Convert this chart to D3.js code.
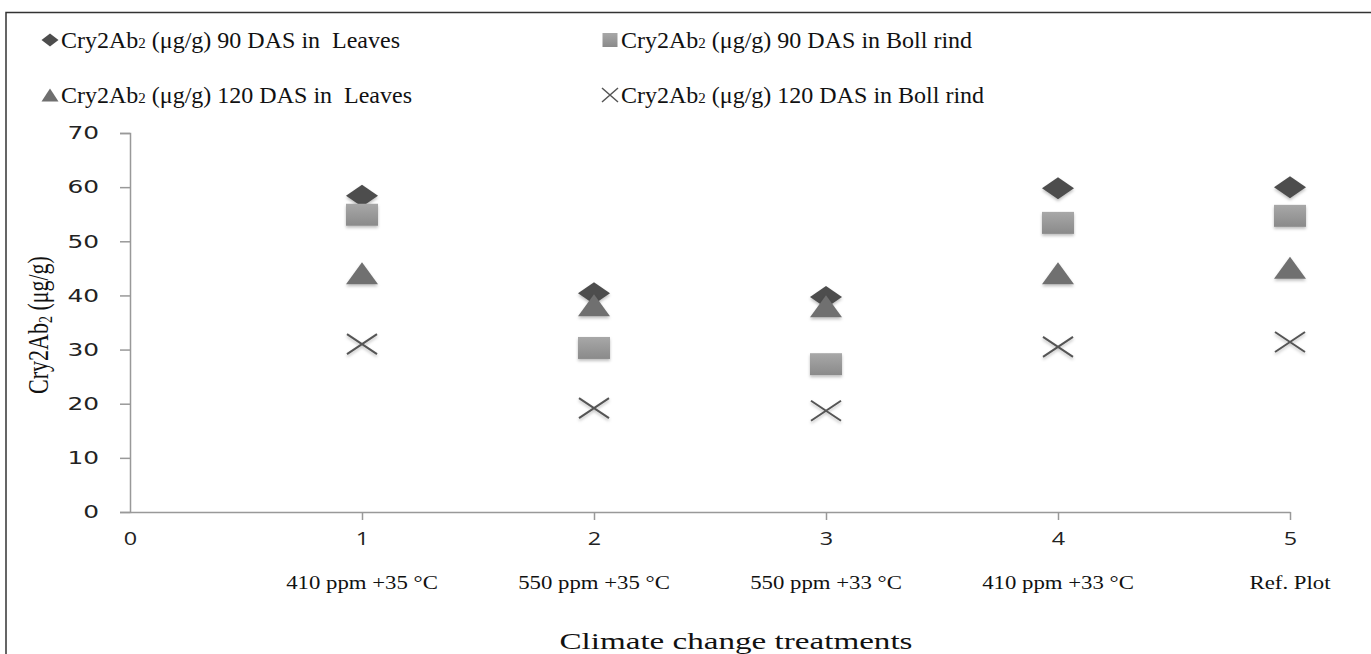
<!DOCTYPE html>
<html>
<head>
  <script src="https://d3js.org/d3.v7.min.js"></script>
  <style>
    body { margin: 0; background: #fff; }
    text { white-space: pre; }
  </style>
</head>
<body>
  <div id="chart"></div>

  <script>
    var treatments = ["410 ppm +35 \u00B0C", "550 ppm +35 \u00B0C", "550 ppm +33 \u00B0C", "410 ppm +33 \u00B0C", "Ref. Plot"];
    var xPositions = [1, 2, 3, 4, 5];
    var leaves90 = [58.4, 40.4, 39.7, 59.8, 60.0];
    var boll90 = [54.9, 30.3, 27.3, 53.4, 54.7];
    var leaves120 = [44.1, 38.2, 38.0, 44.1, 45.1];
    var boll120 = [31.0, 19.2, 18.7, 30.5, 31.4];
    var yTicks = [0, 10, 20, 30, 40, 50, 60, 70];
    var xTicks = [0, 1, 2, 3, 4, 5];

    var series = [
      { pre: "Cry2Ab", post: " (\u03BCg/g) 90 DAS in  Leaves", values: leaves90, shape: "diamond" },
      { pre: "Cry2Ab", post: " (\u03BCg/g) 90 DAS in Boll rind", values: boll90, shape: "square" },
      { pre: "Cry2Ab", post: " (\u03BCg/g) 120 DAS in  Leaves", values: leaves120, shape: "triangle" },
      { pre: "Cry2Ab", post: " (\u03BCg/g) 120 DAS in Boll rind", values: boll120, shape: "cross" }
    ];

    var width = 1371, height = 654;
    var svg = d3.select("#chart").append("svg")
      .attr("width", width).attr("height", height);

    var defs = svg.append("defs");
    var grad = defs.append("linearGradient").attr("id", "sqGrad")
      .attr("x1", 0).attr("y1", 0).attr("x2", 0).attr("y2", 1);
    grad.append("stop").attr("offset", "0%").attr("stop-color", "#a8a8a8");
    grad.append("stop").attr("offset", "100%").attr("stop-color", "#8a8a8a");
    var shadow = defs.append("filter").attr("id", "shadow")
      .attr("x", "-30%").attr("y", "-30%").attr("width", "160%").attr("height", "170%");
    shadow.append("feDropShadow").attr("dx", 0).attr("dy", 2).attr("stdDeviation", 1.5)
      .attr("flood-color", "#000").attr("flood-opacity", 0.25);

    // outer frame
    svg.append("path")
      .attr("d", "M6," + height + "V12.5H" + width)
      .attr("fill", "none").attr("stroke", "#333").attr("stroke-width", 1.5);

    var x = d3.scaleLinear().domain([0, 5]).range([130, 1290]);
    var y = d3.scaleLinear().domain([0, 70]).range([512, 133]);

    // widen a text horizontally around its anchor point
    function stretch(sel, sx) {
      sel.each(function() {
        var t = d3.select(this);
        var tx = +t.attr("x") || 0, ty = +t.attr("y") || 0;
        t.attr("transform", "translate(" + tx + "," + ty + ") scale(" + sx + ",1) translate(" + (-tx) + "," + (-ty) + ")");
      });
    }

    function shapePath(shape, w, h) {
      var a = w / 2, b = h / 2;
      if (shape === "diamond") return "M" + (-a) + ",0L0," + (-b) + "L" + a + ",0L0," + b + "Z";
      if (shape === "square") return "M" + (-a) + "," + (-b) + "H" + a + "V" + b + "H" + (-a) + "Z";
      if (shape === "triangle") return "M" + (-a) + "," + b + "L0," + (-b) + "L" + a + "," + b + "Z";
      return "M" + (-a) + "," + (-b) + "L" + a + "," + b + "M" + (-a) + "," + b + "L" + a + "," + (-b);
    }

    function styleShape(sel, shape) {
      if (shape === "diamond") sel.attr("fill", "#4d4d4d");
      else if (shape === "square") sel.attr("fill", "url(#sqGrad)");
      else if (shape === "triangle") sel.attr("fill", "#6f6f6f");
      else sel.attr("fill", "none").attr("stroke", "#555").attr("stroke-width", 2);
    }

    // y axis
    var yAxis = svg.append("g").attr("transform", "translate(130,0)")
      .call(d3.axisLeft(y).tickValues(yTicks).tickSize(10).tickPadding(21));
    yAxis.selectAll("text").attr("font-family", "DejaVu Sans").attr("font-size", 18).attr("fill", "#222")
      .call(stretch, 1.38);

    // x axis
    var xAxis = svg.append("g").attr("transform", "translate(0,512)")
      .call(d3.axisBottom(x).tickValues(xTicks).tickFormat(d3.format("d"))
        .tickSize(8).tickSizeOuter(0).tickPadding(12));
    xAxis.selectAll("text").attr("font-family", "Open Sans").attr("font-size", 18).attr("fill", "#222")
      .call(stretch, 1.3);
    xAxis.select(".tick line").remove();

    svg.selectAll(".domain, .tick line").attr("stroke", "#999").attr("stroke-width", 1.5);

    // category labels
    svg.append("g").selectAll("text").data(treatments).enter().append("text")
      .attr("x", function(d, i) { return x(xPositions[i]); })
      .attr("y", 589)
      .attr("text-anchor", "middle")
      .attr("font-family", "Liberation Serif").attr("font-size", 19).attr("fill", "#111")
      .text(function(d) { return d; })
      .call(stretch, 1.2);

    // axis titles
    svg.append("text")
      .attr("x", 736).attr("y", 649).attr("text-anchor", "middle")
      .attr("font-family", "Liberation Serif").attr("font-size", 24)
      .attr("fill", "#111").text("Climate change treatments")
      .call(stretch, 1.38);

    var yTitle = svg.append("text")
      .attr("transform", "translate(48,325) rotate(-90) scale(1,1.3)")
      .attr("text-anchor", "middle")
      .attr("font-family", "Liberation Serif").attr("font-size", 22).attr("fill", "#111");
    yTitle.append("tspan").text("Cry2Ab");
    yTitle.append("tspan").attr("font-size", 14).attr("dy", 3).text("2");
    yTitle.append("tspan").attr("dy", -3).text(" (\u03BCg/g)");

    // points
    series.forEach(function(s) {
      var g = svg.append("g").attr("filter", "url(#shadow)");
      g.selectAll("path").data(s.values).enter().append("path")
        .attr("transform", function(d, i) { return "translate(" + x(xPositions[i]) + "," + y(d) + ")"; })
        .attr("d", shapePath(s.shape, s.shape === "cross" ? 30 : 32, s.shape === "cross" ? 20 : 22))
        .call(styleShape, s.shape);
    });

    // legend
    var legendPos = [[40, 40], [600, 40], [40, 95], [600, 95]];
    var legend = svg.append("g");
    series.forEach(function(s, i) {
      var p = legendPos[i];
      var size = s.shape === "square" ? [15, 14] : (s.shape === "cross" ? [16, 14] : [17, 13]);
      var m = legend.append("path")
        .attr("transform", "translate(" + (p[0] + 10) + "," + p[1] + ")")
        .attr("d", shapePath(s.shape, size[0], size[1]));
      styleShape(m, s.shape);
      if (s.shape === "cross") m.attr("stroke-width", 1.5);
      var t = legend.append("text")
        .attr("x", p[0] + 21).attr("y", p[1] + 8)
        .attr("font-family", "Liberation Serif").attr("font-size", 24).attr("fill", "#111");
      t.append("tspan").text(s.pre);
      t.append("tspan").attr("font-size", 15).text("2");
      t.append("tspan").text(s.post);
    });
  </script>
</body>
</html>
